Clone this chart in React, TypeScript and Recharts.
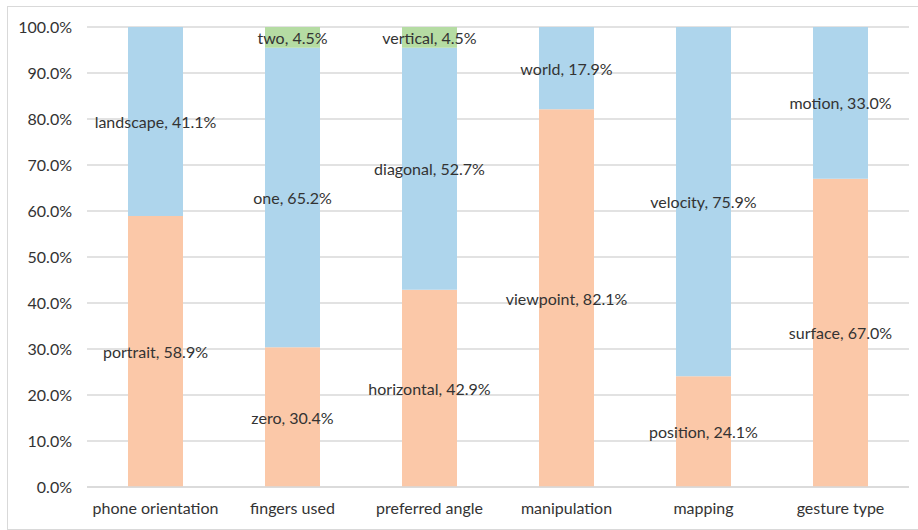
import React from "react";
import { BarChart, Bar, XAxis, YAxis, CartesianGrid, LabelList } from "recharts";

// Survey questions along the x-axis
const categories = [
  "phone orientation",
  "fingers used",
  "preferred angle",
  "manipulation",
  "mapping",
  "gesture type",
];

// Share of answers (%) per stack layer
const firstValues = [58.9, 30.4, 42.9, 82.1, 24.1, 67.0];
const secondValues = [41.1, 65.2, 52.7, 17.9, 75.9, 33.0];
const thirdValues = [0, 4.5, 4.5, 0, 0, 0];

// Answer names shown inside each segment
const firstNames = ["portrait", "zero", "horizontal", "viewpoint", "position", "surface"];
const secondNames = ["landscape", "one", "diagonal", "world", "velocity", "motion"];
const thirdNames = ["", "two", "vertical", "", "", ""];

const yTicks = [0, 0.1, 0.2, 0.3, 0.4, 0.5, 0.6, 0.7, 0.8, 0.9, 1.0];

const fmt = (name: string, v: number) => (name ? `${name}, ${v.toFixed(1)}%` : "");

const data = categories.map((c, i) => ({
  category: c,
  first: firstValues[i],
  second: secondValues[i],
  third: thirdValues[i],
  firstLabel: fmt(firstNames[i], firstValues[i]),
  secondLabel: fmt(secondNames[i], secondValues[i]),
  thirdLabel: fmt(thirdNames[i], thirdValues[i]),
}));

const FONT = "Lato, 'Liberation Sans', sans-serif";
const TEXT = "#333333";
const FS = 16;

const SegmentLabel = (props: any) => {
  const { x, y, width, height, value } = props;
  if (!value) return null;
  return (
    <text
      x={Number(x) + Number(width) / 2}
      y={Number(y) + Number(height) / 2}
      textAnchor="middle"
      dominantBaseline="central"
      fill={TEXT}
      fontSize={FS}
      fontFamily={FONT}
    >
      {value}
    </text>
  );
};

export default function App() {
  return (
    <div style={{ position: "absolute", left: 0, top: 0, width: 918, height: 530, background: "#fff" }}>
      <div
        style={{
          position: "absolute",
          left: 7,
          top: 6,
          width: 914,
          height: 522,
          border: "1px solid #d9d9d9",
        }}
      />
      <BarChart
        width={918}
        height={530}
        data={data}
        stackOffset="expand"
        margin={{ top: 27, right: 9, left: 0, bottom: 0 }}
        barSize={55}
      >
        <CartesianGrid vertical={false} stroke="#d9d9d9" strokeWidth={1.3} />
        <YAxis
          width={87}
          ticks={yTicks}
          domain={[0, 1]}
          interval={0}
          axisLine={false}
          tickLine={false}
          tickMargin={9}
          tickFormatter={(v: number) => `${(v * 100).toFixed(1)}%`}
          tick={{ fill: TEXT, fontSize: FS, fontFamily: FONT }}
        />
        <XAxis
          dataKey="category"
          height={43}
          axisLine={{ stroke: "#d9d9d9", strokeWidth: 1.3 }}
          tickLine={false}
          tickMargin={10}
          interval={0}
          tick={{ fill: TEXT, fontSize: FS, fontFamily: FONT }}
        />
        <Bar dataKey="first" stackId="a" fill="#FBC8A8" isAnimationActive={false}>
          <LabelList dataKey="firstLabel" content={SegmentLabel} />
        </Bar>
        <Bar dataKey="second" stackId="a" fill="#AED5EC" isAnimationActive={false}>
          <LabelList dataKey="secondLabel" content={SegmentLabel} />
        </Bar>
        <Bar dataKey="third" stackId="a" fill="#B5DCA3" isAnimationActive={false}>
          <LabelList dataKey="thirdLabel" content={SegmentLabel} />
        </Bar>
      </BarChart>
    </div>
  );
}
